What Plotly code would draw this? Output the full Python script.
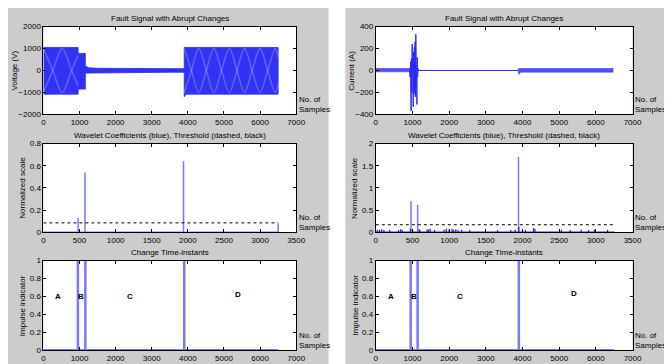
import plotly.graph_objects as go
from plotly.subplots import make_subplots

W, H = 672, 364
OFF = 8               # page body margin offsets the figure by 8 px
FW, FH = W - OFF, H - OFF

# ---------------- data ----------------
# Voltage signal envelope (top-left)
volt_x     = [0, 960, 960, 1160, 1160, 1250, 1500, 2000, 2500, 3000, 3500, 3900, 3900, 3950, 6500]
volt_upper = [1050, 1050, 780, 780, 220, 120, 100, 95, 90, 85, 80, 80, 1050, 1050, 1050]
volt_lower = [-1080, -1080, -850, -850, -120, -110, -100, -95, -90, -85, -80, -80, -1200, -1080, -1080]
# lighter moire curves inside the voltage bands
moire_a_x = [0, 260, 520, 780, 960]
moire_a_y = [1000, 0, -1000, 0, 700]
moire_d_x = [3900, 4100, 4300, 4510, 4720, 4930, 5150, 5360, 5570, 5780, 6000, 6210, 6420, 6500]
moire_d_y = [1000, 0, -1000, 0, 1000, 0, -1000, 0, 1000, 0, -1000, 0, 1000, 600]

# Current signal (top-right)
cur_a_x = [0, 930]
cur_a_upper = [18, 18]
cur_a_lower = [-12, -12]
cur_spike_x = [925, 935, 945, 955, 962, 970, 980, 990, 1000, 1010, 1020, 1030, 1040,
               1050, 1060, 1070, 1080, 1090, 1100, 1110, 1120, 1130, 1140, 1150, 1160, 3880]
cur_spike_y = [10, -60, 80, -100, -370, 110, -200, 240, -250, 200, -330, 170, -220,
               210, -200, 260, -240, 330, -200, 300, -310, 120, -60, 20, 0, 0]
cur_d_x = [3880, 3900, 3950, 6470]
cur_d_upper = [12, 18, 18, 18]
cur_d_lower = [-12, -35, -15, -15]

# Wavelet coefficients (middle row)
wl_left_end = 3250
wl_left_pos = [480, 575, 1940, 3250]
wl_left_val = [0.13, 0.54, 0.64, 0.08]
wl_left_thr = 0.085

wl_right_end = 3250
wl_right_pos = [480, 570, 1945]
wl_right_val = [0.70, 0.62, 1.70]
wl_right_small_pos = [20, 50, 80, 110, 190, 310, 340, 360, 470, 500, 590, 600, 700, 720, 740,
                      800, 930, 960, 1000, 1040, 1060, 1090, 1120, 1170, 1280, 1660, 1840,
                      1900, 1950, 2040, 2150, 2170, 2530, 2650, 2800, 2900, 2980, 3160]
wl_right_small_val = [0.06, 0.05, 0.07, 0.05, 0.06, 0.05, 0.07, 0.05, 0.08, 0.06, 0.07, 0.05,
                      0.07, 0.06, 0.08, 0.05, 0.06, 0.08, 0.07, 0.08, 0.06, 0.07, 0.05, 0.06,
                      0.05, 0.05, 0.05, 0.06, 0.12, 0.05, 0.09, 0.08, 0.06, 0.05, 0.06, 0.05,
                      0.06, 0.06]
wl_right_thr = 0.17

# Change time-instants (bottom row)
imp_left_pos = [955, 1160, 3900]
imp_right_pos = [950, 1140, 3900]
imp_end = 6500
seg_labels = ["A", "B", "C", "D"]
seg_left_x = [400, 1050, 2400, 5400]
seg_left_y = [0.6, 0.6, 0.6, 0.62]
seg_right_x = [400, 1050, 2300, 5400]
seg_right_y = [0.6, 0.6, 0.6, 0.63]

titles_top = "Fault Signal with Abrupt Changes"
titles_mid = "Wavelet Coefficients (blue), Threshold (dashed, black)"
titles_bot = "Change Time-instants"

# ---------------- layout geometry (page pixels) ----------------
col_x = [(42, 299), (380, 641)]
row_y = [(23, 113), (143, 234), (263, 355)]

def px(x):
    return (x - OFF) / FW

def py(y):
    return 1 - (y - OFF) / FH

fig = make_subplots(rows=3, cols=2)

BAND = "rgb(50,50,245)"
LIGHT = "rgb(120,120,255)"

def stems(pos, val, end):
    xs, ys = [0, end], [0, 0]
    for p, v in zip(pos, val):
        xs += [None, p, p]
        ys += [None, 0, v]
    return xs, ys

# top-left voltage
fig.add_trace(go.Scatter(x=volt_x + volt_x[::-1], y=volt_upper + volt_lower[::-1],
                         fill="toself", fillcolor=BAND, line=dict(color="rgb(40,40,255)", width=0.8),
                         mode="lines", hoverinfo="skip"), row=1, col=1)
for sgn in (1, -1):
    fig.add_trace(go.Scatter(x=moire_a_x, y=[sgn * v for v in moire_a_y], mode="lines",
                             line=dict(color="rgba(170,170,255,0.4)", width=1.5, shape="spline")),
                  row=1, col=1)
    fig.add_trace(go.Scatter(x=moire_d_x, y=[sgn * v for v in moire_d_y], mode="lines",
                             line=dict(color="rgba(170,170,255,0.4)", width=1.5, shape="spline")),
                  row=1, col=1)

# top-right current
for xs, up, lo in ((cur_a_x, cur_a_upper, cur_a_lower), (cur_d_x, cur_d_upper, cur_d_lower)):
    fig.add_trace(go.Scatter(x=xs + xs[::-1], y=up + lo[::-1], fill="toself", fillcolor="rgb(80,80,245)",
                             line=dict(color="rgb(60,60,255)", width=0.6), mode="lines"), row=1, col=2)
fig.add_trace(go.Scatter(x=cur_spike_x, y=cur_spike_y, mode="lines",
                         line=dict(color="rgb(40,40,255)", width=1)), row=1, col=2)

# middle-left wavelet
sx, sy = stems(wl_left_pos, wl_left_val, wl_left_end)
fig.add_trace(go.Scatter(x=sx, y=sy, mode="lines", line=dict(color=LIGHT, width=1.5)), row=2, col=1)
fig.add_trace(go.Scatter(x=[0, wl_left_end], y=[wl_left_thr] * 2, mode="lines",
                         line=dict(color="black", width=1, dash="dot")), row=2, col=1)

# middle-right wavelet
sx, sy = stems(wl_right_pos, wl_right_val, wl_right_end)
fig.add_trace(go.Scatter(x=sx, y=sy, mode="lines", line=dict(color=LIGHT, width=1.5)), row=2, col=2)
sx, sy = stems(wl_right_small_pos, wl_right_small_val, wl_right_end)
fig.add_trace(go.Scatter(x=sx, y=sy, mode="lines", line=dict(color="rgb(30,30,230)", width=1.2)), row=2, col=2)
fig.add_trace(go.Scatter(x=[0, wl_right_end], y=[wl_right_thr] * 2, mode="lines",
                         line=dict(color="black", width=1, dash="dot")), row=2, col=2)

# bottom impulses
for c, pos in ((1, imp_left_pos), (2, imp_right_pos)):
    sx, sy = stems(pos, [1] * len(pos), imp_end)
    fig.add_trace(go.Scatter(x=sx, y=sy, mode="lines", line=dict(color=LIGHT, width=2.5)), row=3, col=c)

# axes
axis_common = dict(showgrid=False, zeroline=False, showline=True, linecolor="black", linewidth=1,
                   mirror="ticks", ticks="inside", ticklen=3, tickcolor="black",
                   tickfont=dict(family="Liberation Sans", size=8, color="black"))
ranges = {
    (1, 1): ([0, 7000], 1000, [-2000, 2000], 1000),
    (1, 2): ([0, 7000], 1000, [-400, 400], 200),
    (2, 1): ([0, 3500], 500, [0, 0.8], 0.2),
    (2, 2): ([0, 3500], 500, [0, 2], 0.5),
    (3, 1): ([0, 7000], 1000, [0, 1], 0.2),
    (3, 2): ([0, 7000], 1000, [0, 1], 0.2),
}
for (r, c), (xr, xd, yr, yd) in ranges.items():
    idx = (r - 1) * 2 + c
    xn = "xaxis" if idx == 1 else f"xaxis{idx}"
    yn = "yaxis" if idx == 1 else f"yaxis{idx}"
    x0, x1 = col_x[c - 1]
    y0, y1 = row_y[r - 1]
    fig.layout[xn].update(domain=[px(x0), px(x1)], range=xr, dtick=xd, tick0=0, **axis_common)
    fig.layout[yn].update(domain=[py(y1), py(y0)], range=yr, dtick=yd, tick0=yr[0], **axis_common)

# white gap between the two grey panels
shapes = [
    dict(type="rect", xref="paper", yref="paper", x0=px(332), x1=px(349), y0=-0.1, y1=1.1,
         fillcolor="white", line=dict(width=0), layer="above"),
]

FONT = dict(family="Liberation Sans", size=8, color="black")
ann = []
row_titles = [titles_top, titles_mid, titles_bot]
ylabels = [["Voltage (V)", "Current (A)"], ["Normalized scale", "Normalized scale"],
           ["Impulse indicator", "Impulse indicator"]]
ylab_x = [[13, 355], [21, 359], [21, 359]]
for r in range(3):
    y0, y1 = row_y[r]
    for c in range(2):
        x0, x1 = col_x[c]
        ann.append(dict(text=row_titles[r], x=px((x0 + x1) / 2), y=py(y0 - 8), xref="paper", yref="paper",
                        showarrow=False, font=FONT, xanchor="center", yanchor="middle"))
        ann.append(dict(text=ylabels[r][c], x=px(ylab_x[r][c]), y=py((y0 + y1) / 2), xref="paper",
                        yref="paper", showarrow=False, font=FONT, textangle=-90,
                        xanchor="center", yanchor="middle"))
        ann.append(dict(text="No. of<br>Samples", x=px(x1 + 1), y=py(y1 + 2), xref="paper", yref="paper",
                        showarrow=False, font=FONT, xanchor="left", yanchor="bottom", align="left"))

for c, (sxs, sys) in enumerate(((seg_left_x, seg_left_y), (seg_right_x, seg_right_y))):
    idx = 4 + c + 1
    for lab, xv, yv in zip(seg_labels, sxs, sys):
        ann.append(dict(text=f"<b>{lab}</b>", x=xv, y=yv, xref=f"x{idx}", yref=f"y{idx}", showarrow=False,
                        font=dict(family="Liberation Sans", size=8, color="black")))

fig.update_layout(width=FW, height=FH, margin=dict(l=0, r=0, t=0, b=0), showlegend=False,
                  paper_bgcolor="rgb(204,204,204)", plot_bgcolor="white", shapes=shapes,
                  annotations=ann, font=FONT)

fig.write_html("out.html")
